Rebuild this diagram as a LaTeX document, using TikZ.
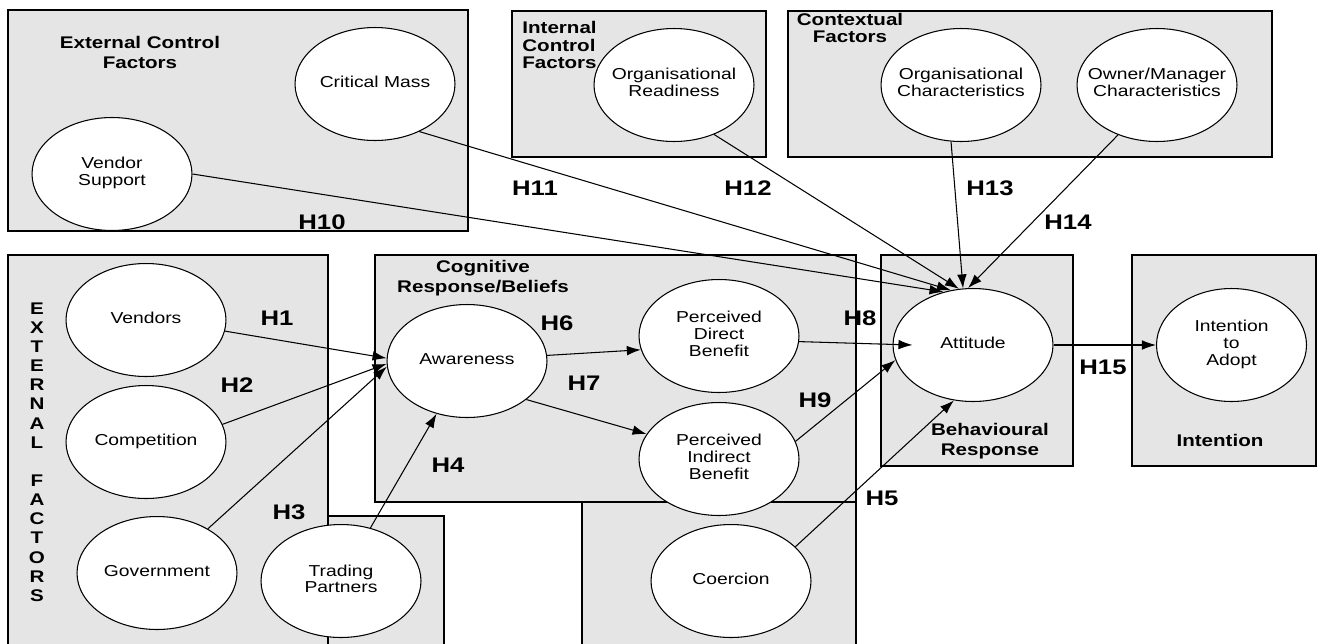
\documentclass[tikz,border=0pt]{standalone}
\usepackage{fontspec}
\usepackage{tikz}
\usetikzlibrary{arrows.meta, positioning, shapes.geometric}
\newfontfamily\diagfont[FakeStretch=1.22]{Liberation Sans}
\newcommand{\elltext}{\diagfont\fontsize{9}{9.5}\selectfont}
\newcommand{\titletext}{\diagfont\bfseries\fontsize{9.6}{11.4}\selectfont}
\newcommand{\vertext}{\diagfont\bfseries\fontsize{9.6}{10.9}\selectfont}
\newcommand{\hyptext}{\diagfont\bfseries\fontsize{12}{14}\selectfont}
\newcommand{\ftext}[1]{\makebox[0pt]{\begin{tabular}{@{}c@{}}#1\end{tabular}}}

\begin{document}
\begin{tikzpicture}[
  x=0.02cm, y=-0.02cm,
  factor/.style={ellipse, draw=black, fill=white, line width=0.6pt, minimum width=3.2cm, minimum height=2.26cm, inner sep=0pt, font=\elltext},
  panel/.style={draw=black, fill=black!10, line width=0.9pt},
  heading/.style={font=\titletext, align=center, inner sep=0pt},
  hyp/.style={font=\hyptext, inner sep=0pt},
  arr/.style={-{Latex[length=8pt,width=5.5pt]}, line width=0.6pt},
  node distance=2.05cm
]
\useasboundingbox (0,0) rectangle (1321,643);

% grey panels
\draw[panel] (8,10) rectangle (468,231);
\draw[panel] (512,11) rectangle (766,157);
\draw[panel] (788,11) rectangle (1272,157);
\draw[panel] (328,516) rectangle (444,660);
\draw[panel] (8,255) rectangle (328,660);
\draw[panel] (582,502) rectangle (856,660);
\draw[panel] (375,255) rectangle (856,502);
\draw[panel] (881,255) rectangle (1073,466);
\draw[panel] (1132,255) rectangle (1316,466);

\node[heading] (ecfhead) at (140,52) {External Control\\Factors};
\node[heading, align=left, anchor=west] (icfhead) at (522,45) {Internal\\[-1.7pt]Control\\[-1.7pt]Factors};
\node[heading] (ctxhead) at (850,28) {Contextual\\[-1.7pt]Factors};
\node[heading] (coghead) at (483,278) {Cognitive\\Response/Beliefs};
\node[heading] (behhead) at (990,441) {Behavioural\\Response};
\node[heading] (inthead) at (1220,440) {Intention};
\node[heading, font=\vertext] (exthead) at (37,452) {E\\X\\T\\E\\R\\N\\A\\L\\[10.9pt]F\\A\\C\\T\\O\\R\\S};

% constructs
\node[factor] (crit) at (375,84) {\ftext{Critical Mass}};
\node[factor] (vsup) at (112,174) {\ftext{Vendor\\Support}};
\node[factor] (ready) at (674,85) {\ftext{Organisational\\Readiness}};
\node[factor] (orgch) at (961,85) {\ftext{Organisational\\Characteristics}};
\node[factor] (ownch) at (1157,85) {\ftext{Owner/Manager\\Characteristics}};
\node[factor] (vend) at (146,320) {\ftext{Vendors}};
\node[factor] (comp) at (146,442) {\ftext{Competition}};
\node[factor] (gov) at (157,573) {\ftext{Government}};
\node[factor] (trade) at (341,581) {\ftext{Trading\\Partners}};
\node[factor] (aware) at (467,361) {\ftext{Awareness}};
\node[factor] (pdb) at (719,336) {\ftext{Perceived\\Direct\\Benefit}};
\node[factor] (pib) at (719,459) {\ftext{Perceived\\Indirect\\Benefit}};
\node[factor] (coer) at (731,581) {\ftext{Coercion}};
\node[factor] (att) at (973,345) {\ftext{Attitude}};
\node[factor, minimum width=3cm, right=of att] (intent) {\ftext{Intention\\to\\Adopt}};

% paths
\draw[arr] (vend.-8) -- (aware.178);
\draw[arr] (comp.13) -- (aware.182);
\draw[arr] (gov.41) -- (aware.184);
\draw[arr] (trade.61) -- (aware.240);
\draw[arr] (aware.4) -- (pdb.190);
\draw[arr] (aware.-33) -- (pib.161);
\draw[arr] (vsup.east) -- (att.119);
\draw[arr] (crit.-47) -- (att.112);
\draw[arr] (ready.-51) -- (att.104);
\draw[arr] (orgch.-100) -- (att.100);
\draw[arr] (ownch.232) -- (att.95);
\draw[arr] (pdb.-4) -- ([xshift=0.4cm]att.west);
\draw[arr] (pib.13) -- (att.191);
\draw[arr] (coer.28) -- (att.251);
\draw[arr] (att.east) -- (intent.west);

\node[hyp] (h1) at (277,318) {H1};
\node[hyp] (h2) at (237,385) {H2};
\node[hyp] (h3) at (289,512) {H3};
\node[hyp] (h4) at (448,465) {H4};
\node[hyp] (h5) at (882,498) {H5};
\node[hyp] (h6) at (557,323) {H6};
\node[hyp] (h7) at (584,383) {H7};
\node[hyp] (h8) at (860,318) {H8};
\node[hyp] (h9) at (815,400) {H9};
\node[hyp] (h10) at (322,222) {H10};
\node[hyp] (h11) at (535,188) {H11};
\node[hyp] (h12) at (748,188) {H12};
\node[hyp] (h13) at (990,188) {H13};
\node[hyp] (h14) at (1068,222) {H14};
\node[hyp] (h15) at (1103,367) {H15};
\end{tikzpicture}
\end{document}
